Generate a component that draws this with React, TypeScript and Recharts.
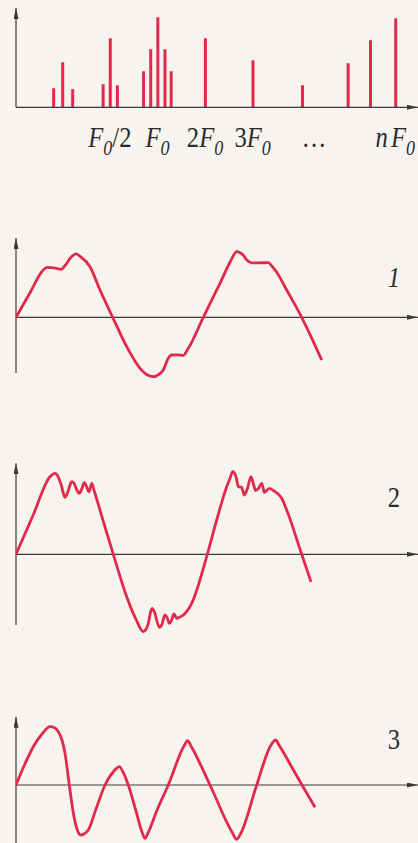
import React from 'react';
import {
  ComposedChart,
  LineChart,
  Line,
  Bar,
  XAxis,
  YAxis,
  ReferenceLine,
} from 'recharts';

const RED = '#e2294b';
const AXIS = '#3a3a3a';
const BG = '#f7f4ef';
const SERIF = '"Liberation Serif", "Times New Roman", serif';

// Spectrum lines: position on the harmonic grid (F0/2 = 1, F0 = 2, ...) and amplitude
const spectrumPos = [-0.19, 0, 0.21, 0.85, 1, 1.15, 1.7, 1.85, 2, 2.15, 2.28, 3, 4, 5.04, 6, 6.47, 7];
const spectrumAmp = [19, 45, 18, 23, 69, 22, 36, 58, 90, 58, 36, 69, 47, 22, 44, 67, 89];
const spectrumTicks = [1, 2, 3, 4, 5, 7];
const spectrumTickLabels = ['F0/2', 'F0', '2F0', '3F0', '…', 'nF0'];
const spectrumXDomain = [-0.973, 7.477];

// Waveform 1
const wave1T = [0, 14, 27, 31, 38, 45, 50, 55, 60, 64, 74, 84, 96.7, 110.7, 124, 131, 137.3, 143, 147.3, 152.3, 155.7, 161, 167.3, 172.3, 187.3, 204, 214, 220.7, 224, 227.3, 231, 235.7, 244, 252.3, 256, 260.7, 270.7, 285.7, 305.7];
const wave1V = [0, 24.5, 47, 50, 49.5, 48, 53, 60, 63.5, 61, 50.6, 27.3, 0, -29.4, -51, -57.5, -59.4, -57, -52.7, -41, -37.7, -37.5, -38, -31, 0, 34, 55, 65.6, 64.5, 62, 57, 54.5, 54.5, 54.6, 51, 45, 27.3, 0, -42.7];

// Waveform 2
const wave2T = [0, 17, 34, 39, 42, 45, 49, 52, 55.7, 58, 60.5, 63.3, 66, 68.3, 70.5, 73, 74.5, 75.7, 78, 87.3, 97.3, 110.7, 120, 127.3, 130, 132.3, 134.5, 136.3, 138.5, 143.3, 146, 149, 151, 153.3, 155.5, 158, 160.7, 163.5, 167.3, 175.7, 191.3, 200.7, 210.7, 214, 216.7, 220, 222.3, 225.7, 228.3, 231.5, 235, 237.5, 239.7, 242.5, 245.7, 247, 248.3, 253.3, 259, 265.7, 270.7, 285.7, 295];
const wave2V = [0, 38.8, 77.6, 81, 78, 70, 57, 63, 72.6, 71, 65, 61, 66, 71.6, 68, 62.6, 67, 71, 64, 33, 0, -42.4, -65, -77.4, -75, -69, -58, -54, -58, -73, -70, -60.7, -63, -69, -66, -59.7, -64, -63, -60.7, -49, 0, 34.3, 67.6, 76, 82.6, 77.6, 67.6, 67, 59.3, 66, 77.6, 70, 63.6, 66, 71, 67, 62, 66, 62.6, 56, 44.3, 0, -27.6];

// Waveform 3
const wave3T = [0, 8, 17.3, 26, 34, 39, 42.3, 46, 49, 53.3, 58, 61, 64.7, 68, 72.3, 80, 89, 98, 103.3, 107, 112.3, 120, 126, 129, 132, 140.7, 152.3, 168, 171.7, 175, 194, 216, 220.7, 225, 240.7, 255, 259.7, 263, 277.3, 286, 299];
const wave3V = [0, 19, 38.3, 51, 58.3, 57, 53.3, 45, 31.7, 0, -31.7, -44, -50, -49, -45, -24, 0, 14, 18.3, 13, 0, -26, -47, -53.3, -48, -26, 0, 39, 44.3, 39, 0, -47, -54.3, -48, 0, 40, 45, 40, 15.2, 0, -22.3];

const spectrumData = spectrumPos.map((pos, i) => ({ pos, amp: spectrumAmp[i] }));
const toSeries = (t: number[], v: number[]) => t.map((x, i) => ({ t: x, v: v[i] }));

const ArrowDefs = ({ id }: { id: string }) => (
  <defs>
    <marker
      id={id}
      viewBox="0 0 11 5"
      refX={11}
      refY={2.5}
      markerWidth={11}
      markerHeight={5}
      markerUnits="userSpaceOnUse"
      orient="auto"
    >
      <path d="M0,0 L11,2.5 L0,5 Z" fill={AXIS} />
    </marker>
  </defs>
);

// Renders labels such as "2F0" with an italic F and a lowered zero
const renderLabel = (label: string) => {
  const parts: React.ReactNode[] = [];
  let lowered = false;
  for (let k = 0; k < label.length; k++) {
    const ch = label[k];
    if (ch === '0' && label[k - 1] === 'F') {
      parts.push(
        <tspan key={k} dy={8} fontSize={22} fontStyle="italic">
          0
        </tspan>
      );
      lowered = true;
    } else {
      const italic = /[A-Za-z]/.test(ch);
      const gap = ch === 'F' && label[k - 1] === 'n' ? 4 : 0;
      parts.push(
        <tspan key={k} dx={gap} dy={lowered ? -8 : 0} fontStyle={italic ? 'italic' : 'normal'}>
          {ch}
        </tspan>
      );
      lowered = false;
    }
  }
  return parts;
};

const SpectrumTick = (props: any) => {
  const { x, y, payload } = props;
  const idx = spectrumTicks.indexOf(payload.value);
  const label = spectrumTickLabels[idx] ?? '';
  const isEllipsis = label === '…';
  return (
    <g transform={`translate(${x},${y + 32}) scale(0.82,1)`}>
      <text
        x={isEllipsis ? 2 : 0}
        y={0}
        textAnchor={isEllipsis ? 'start' : 'middle'}
        fontFamily={SERIF}
        fontSize={30}
        fill="#2b2b2b"
      >
        {renderLabel(label)}
      </text>
    </g>
  );
};

type WaveProps = {
  top: number;
  height: number;
  domain: [number, number];
  axisTop: number;
  axisBottom: number;
  t: number[];
  v: number[];
  label: string;
  italicLabel?: boolean;
  labelY: number;
  id: string;
};

const Wave = ({ top, height, domain, axisTop, axisBottom, t, v, label, italicLabel, labelY, id }: WaveProps) => (
  <div style={{ position: 'absolute', left: 0, top }}>
    <LineChart
      width={418}
      height={height}
      data={toSeries(t, v)}
      margin={{ top: 0, right: 0, bottom: 0, left: 16 }}
    >
      <ArrowDefs id={id} />
      <XAxis type="number" dataKey="t" domain={[0, 402]} allowDataOverflow hide height={0} />
      <YAxis type="number" domain={domain} allowDataOverflow hide width={0} />
      <ReferenceLine
        segment={[{ x: 0, y: 0 }, { x: 402, y: 0 }]}
        stroke={AXIS}
        strokeWidth={1.2}
        ifOverflow="visible"
        markerEnd={`url(#${id})`}
      />
      <ReferenceLine
        segment={[{ x: 0, y: axisBottom }, { x: 0, y: axisTop }]}
        stroke={AXIS}
        strokeWidth={1.2}
        ifOverflow="visible"
        markerEnd={`url(#${id})`}
      />
      <Line
        type="monotone"
        dataKey="v"
        stroke={RED}
        strokeWidth={2.8}
        dot={false}
        isAnimationActive={false}
      />
      <g transform={`translate(394,${labelY}) scale(0.82,1)`}>
        <text
          x={0}
          y={0}
          textAnchor="middle"
          fontFamily={SERIF}
          fontSize={30}
          fontStyle={italicLabel ? 'italic' : 'normal'}
          fill="#2b2b2b"
        >
          {label}
        </text>
      </g>
    </LineChart>
  </div>
);

export default function App() {
  return (
    <div
      style={{
        position: 'fixed',
        left: 0,
        top: 0,
        width: 418,
        height: 843,
        background: BG,
        overflow: 'hidden',
      }}
    >
      <div style={{ position: 'absolute', left: 0, top: 0 }}>
        <ComposedChart
          width={418}
          height={160}
          data={spectrumData}
          margin={{ top: 7.3, right: 0, bottom: 0, left: 16 }}
        >
          <ArrowDefs id="arrow-spectrum" />
          <XAxis
            type="number"
            dataKey="pos"
            domain={spectrumXDomain}
            allowDataOverflow
            ticks={spectrumTicks}
            interval={0}
            tick={<SpectrumTick />}
            tickLine={false}
            axisLine={false}
            height={52.7}
          />
          <YAxis type="number" domain={[0, 100]} allowDataOverflow hide width={0} />
          <ReferenceLine
            segment={[{ x: spectrumXDomain[0], y: 0 }, { x: spectrumXDomain[1], y: 0 }]}
            stroke={AXIS}
            strokeWidth={1.2}
            ifOverflow="visible"
            markerEnd="url(#arrow-spectrum)"
          />
          <ReferenceLine
            segment={[{ x: spectrumXDomain[0], y: 0 }, { x: spectrumXDomain[0], y: 99.3 }]}
            stroke={AXIS}
            strokeWidth={1.2}
            ifOverflow="visible"
            markerEnd="url(#arrow-spectrum)"
          />
          <Bar dataKey="amp" fill={RED} barSize={3} isAnimationActive={false} />
        </ComposedChart>
      </div>
      <Wave top={220} height={170} domain={[-72.7, 97.3]} axisTop={79.3} axisBottom={-55.7} t={wave1T} v={wave1V} label="1" italicLabel labelY={66.7} id="arrow-w1" />
      <Wave top={450} height={190} domain={[-85.7, 104.3]} axisTop={91} axisBottom={-70.7} t={wave2T} v={wave2V} label="2" labelY={56.7} id="arrow-w2" />
      <Wave top={700} height={143} domain={[-58, 85]} axisTop={68.3} axisBottom={-58} t={wave3T} v={wave3V} label="3" labelY={49.3} id="arrow-w3" />
    </div>
  );
}
